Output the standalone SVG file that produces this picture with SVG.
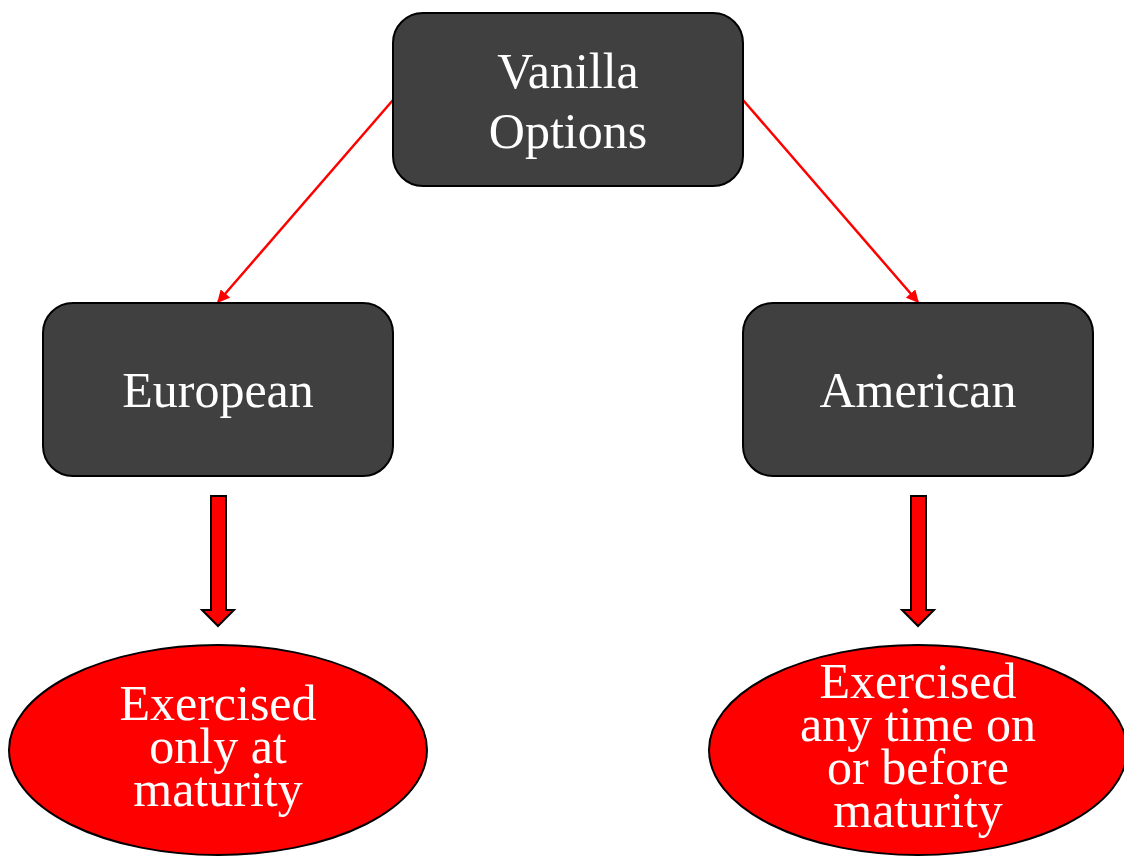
<svg xmlns="http://www.w3.org/2000/svg" width="1124" height="856" viewBox="0 0 1124 856">
<style>
.box{fill:#404040;stroke:#000;stroke-width:2}
.ell{fill:#ff0000;stroke:#000;stroke-width:2}
.t{fill:#fff;font-family:"Liberation Serif","Times New Roman",serif;font-size:50px;text-anchor:middle}
.con{stroke:#ff0000;stroke-width:2.5;fill:none}
.blk{fill:#ff0000;stroke:#000;stroke-width:2}
</style>
<defs>
<marker id="ah" viewBox="0 0 10 10" refX="9" refY="5" markerWidth="5" markerHeight="5" orient="auto" markerUnits="strokeWidth">
<path d="M0,0 L10,5 L0,10 z" fill="#ff0000"/>
</marker>
</defs>
<g id="connectors">
<line class="con" x1="393" y1="100" x2="218" y2="302" marker-end="url(#ah)"/>
<line class="con" x1="743" y1="100" x2="918" y2="302" marker-end="url(#ah)"/>
<path class="blk" d="M211,496 L226,496 L226,610 L234,610 L218,626 L202,610 L211,610 Z"/>
<path class="blk" d="M911,496 L926,496 L926,610 L934,610 L918,626 L902,610 L911,610 Z"/>
</g>
<g id="vanilla">
<rect class="box" x="393" y="13" width="350" height="173" rx="30"/>
<text class="t" x="568" y="88">Vanilla</text>
<text class="t" x="568" y="148">Options</text>
</g>
<g id="european">
<rect class="box" x="43" y="303" width="350" height="173" rx="30"/>
<text class="t" x="218" y="407">European</text>
</g>
<g id="american">
<rect class="box" x="743" y="303" width="350" height="173" rx="30"/>
<text class="t" x="918" y="407">American</text>
</g>
<g id="european-desc">
<ellipse class="ell" cx="218" cy="750" rx="209" ry="105"/>
<text class="t" x="218" y="720">Exercised</text>
<text class="t" x="218" y="763">only at</text>
<text class="t" x="218" y="806">maturity</text>
</g>
<g id="american-desc">
<ellipse class="ell" cx="918" cy="750" rx="209" ry="105"/>
<text class="t" x="918" y="698">Exercised</text>
<text class="t" x="918" y="741">any time on</text>
<text class="t" x="918" y="784">or before</text>
<text class="t" x="918" y="827">maturity</text>
</g>
</svg>
